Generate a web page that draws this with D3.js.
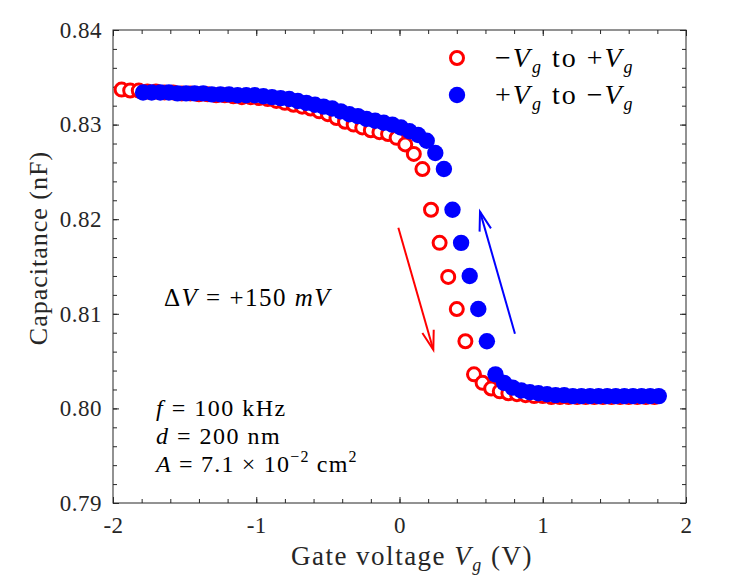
<!DOCTYPE html>
<html lang="en">
<head>
  <meta charset="UTF-8" />
  <title>Capacitance vs gate voltage</title>
  <script src="https://d3js.org/d3.v7.min.js"></script>
  <style>
    body { margin: 0; background: #fff; }
    svg { display: block; }
    .axis line { stroke: #262626; stroke-width: 1; }
  </style>
</head>
<body>
<svg id="chart" width="738" height="586"></svg>
<script>
  // sweep -Vg -> +Vg (open red circles)
  const upX = [-1.94, -1.88, -1.82, -1.76, -1.70, -1.64, -1.58, -1.52, -1.46, -1.40,
    -1.34, -1.28, -1.22, -1.16, -1.10, -1.04, -0.98, -0.92, -0.86, -0.80,
    -0.74, -0.68, -0.62, -0.56, -0.50, -0.44, -0.38, -0.32, -0.26, -0.20,
    -0.14, -0.08, -0.02, 0.04, 0.10, 0.16, 0.22, 0.28, 0.34, 0.40,
    0.46, 0.52, 0.58, 0.64, 0.70, 0.76, 0.82, 0.88, 0.94, 1.00,
    1.06, 1.12, 1.18, 1.24, 1.30, 1.36, 1.42, 1.48, 1.54, 1.60,
    1.66, 1.72, 1.78];
  const upC = [0.8337, 0.8336, 0.8336, 0.8335, 0.8335, 0.8334, 0.8334, 0.8333, 0.8333, 0.8332,
    0.8332, 0.8331, 0.8331, 0.8330, 0.8329, 0.8329, 0.8328, 0.8327, 0.8325, 0.8323,
    0.8321, 0.8319, 0.8317, 0.8314, 0.8311, 0.8307, 0.8303, 0.8300, 0.8297, 0.8294,
    0.8292, 0.8290, 0.8286, 0.8279, 0.8269, 0.8253, 0.8210, 0.8175, 0.8139, 0.8105,
    0.8071, 0.8036, 0.8027, 0.8021, 0.8018, 0.8016, 0.8015, 0.8014, 0.8013, 0.8013,
    0.8012, 0.8012, 0.8012, 0.8012, 0.8012, 0.8012, 0.8012, 0.8012, 0.8012, 0.8012,
    0.8012, 0.8012, 0.8012];

  // sweep +Vg -> -Vg (filled blue circles)
  const downX = [-1.79, -1.73, -1.67, -1.61, -1.55, -1.49, -1.43, -1.37, -1.31, -1.25,
    -1.19, -1.13, -1.07, -1.01, -0.95, -0.89, -0.83, -0.77, -0.71, -0.65,
    -0.59, -0.53, -0.47, -0.41, -0.35, -0.29, -0.23, -0.17, -0.11, -0.05,
    0.01, 0.07, 0.13, 0.19, 0.25, 0.31, 0.37, 0.43, 0.49, 0.55,
    0.61, 0.67, 0.73, 0.79, 0.85, 0.91, 0.97, 1.03, 1.09, 1.15,
    1.21, 1.27, 1.33, 1.39, 1.45, 1.51, 1.57, 1.63, 1.69, 1.75,
    1.81];
  const downC = [0.8334, 0.8334, 0.8334, 0.8334, 0.8333, 0.8333, 0.8333, 0.8333, 0.8332, 0.8332,
    0.8332, 0.8331, 0.8331, 0.8331, 0.8330, 0.8329, 0.8328, 0.8327, 0.8325, 0.8323,
    0.8321, 0.8319, 0.8317, 0.8314, 0.8311, 0.8309, 0.8306, 0.8304, 0.8302, 0.8300,
    0.8297, 0.8293, 0.8289, 0.8283, 0.8270, 0.8253, 0.8210, 0.8175, 0.8140, 0.8105,
    0.8071, 0.8036, 0.8027, 0.8022, 0.8019, 0.8017, 0.8016, 0.8015, 0.8014, 0.8014,
    0.8013, 0.8013, 0.8013, 0.8013, 0.8013, 0.8013, 0.8013, 0.8013, 0.8013, 0.8013,
    0.8013];

  const xTicks = [-2, -1, 0, 1, 2];
  const xTickLabels = ["-2", "-1", "0", "1", "2"];
  const yTicks = [0.79, 0.80, 0.81, 0.82, 0.83, 0.84];
  const yTickLabels = ["0.79", "0.80", "0.81", "0.82", "0.83", "0.84"];
  const xMinor = d3.range(-20, 21, 2).map(v => v / 10);
  const yMinor = d3.range(395, 421, 1).map(v => v / 500);

  // arrows: [x1, y1, x2 (tip), y2 (tip)]
  const redArrow = [-0.008, 0.8191, 0.236, 0.8062];
  const blueArrow = [0.806, 0.8079, 0.562, 0.8208];

  const FONT = "'Liberation Serif', 'Times New Roman', Times, 'DejaVu Serif', serif";
  const INK = "#262626";

  const svg = d3.select("#chart");
  const x = d3.scaleLinear().domain([-2, 2]).range([113, 686]);
  const y = d3.scaleLinear().domain([0.79, 0.84]).range([503, 30]);

  // plot box
  svg.append("rect")
    .attr("x", 113).attr("y", 30).attr("width", 573).attr("height", 473)
    .attr("fill", "none").attr("stroke", INK).attr("stroke-width", 1);

  // minor ticks on all four sides
  const minorTick = 4;
  svg.append("g").attr("class", "axis").attr("transform", "translate(0,503)")
    .call(d3.axisBottom(x).tickValues(xMinor).tickSizeInner(-minorTick).tickSizeOuter(0).tickFormat(""));
  svg.append("g").attr("class", "axis").attr("transform", "translate(0,30)")
    .call(d3.axisTop(x).tickValues(xMinor).tickSizeInner(-minorTick).tickSizeOuter(0).tickFormat(""));
  svg.append("g").attr("class", "axis").attr("transform", "translate(113,0)")
    .call(d3.axisLeft(y).tickValues(yMinor).tickSizeInner(-minorTick).tickSizeOuter(0).tickFormat(""));
  svg.append("g").attr("class", "axis").attr("transform", "translate(686,0)")
    .call(d3.axisRight(y).tickValues(yMinor).tickSizeInner(-minorTick).tickSizeOuter(0).tickFormat(""));

  // major ticks with labels
  svg.append("g").attr("class", "axis labelled").attr("transform", "translate(0,503)")
    .call(d3.axisBottom(x).tickValues(xTicks).tickSizeInner(-6).tickSizeOuter(0)
      .tickPadding(14).tickFormat((d, i) => xTickLabels[i]));
  svg.append("g").attr("class", "axis labelled").attr("transform", "translate(113,0)")
    .call(d3.axisLeft(y).tickValues(yTicks).tickSizeInner(-6).tickSizeOuter(0)
      .tickPadding(11).tickFormat((d, i) => yTickLabels[i]));
  svg.append("g").attr("class", "axis").attr("transform", "translate(0,30)")
    .call(d3.axisTop(x).tickValues(xTicks).tickSizeInner(-6).tickSizeOuter(0).tickFormat(""));
  svg.append("g").attr("class", "axis").attr("transform", "translate(686,0)")
    .call(d3.axisRight(y).tickValues(yTicks).tickSizeInner(-6).tickSizeOuter(0).tickFormat(""));
  svg.selectAll(".axis .domain").remove();
  svg.selectAll(".labelled text")
    .attr("fill", INK)
    .style("font-family", FONT)
    .style("font-size", "23px")
    .attr("letter-spacing", 0.5);

  // data
  const up = upX.map((v, i) => ({ v, c: upC[i] }));
  const down = downX.map((v, i) => ({ v, c: downC[i] }));

  svg.append("g").selectAll("circle").data(up).enter().append("circle")
    .attr("cx", d => x(d.v)).attr("cy", d => y(d.c)).attr("r", 6.5)
    .attr("fill", "#fff").attr("stroke", "#ff0000").attr("stroke-width", 3);

  svg.append("g").selectAll("circle").data(down).enter().append("circle")
    .attr("cx", d => x(d.v)).attr("cy", d => y(d.c)).attr("r", 8.2)
    .attr("fill", "#0000ff");

  // arrows
  function arrow(a, color) {
    const x1 = x(a[0]), y1 = y(a[1]), x2 = x(a[2]), y2 = y(a[3]);
    const ang = Math.atan2(y2 - y1, x2 - x1);
    const len = 20, spread = 0.3;
    const g = svg.append("g").attr("stroke", color).attr("stroke-width", 2).attr("fill", "none");
    g.append("line").attr("x1", x1).attr("y1", y1).attr("x2", x2).attr("y2", y2);
    g.append("path").attr("d",
      `M${x2 - len * Math.cos(ang - spread)},${y2 - len * Math.sin(ang - spread)}` +
      `L${x2},${y2}` +
      `L${x2 - len * Math.cos(ang + spread)},${y2 - len * Math.sin(ang + spread)}`);
  }
  arrow(redArrow, "#ff0000");
  arrow(blueArrow, "#0000ff");

  function txt(xp, yp, size, spacing) {
    return svg.append("text").attr("x", xp).attr("y", yp)
      .attr("font-family", FONT).attr("font-size", size).attr("fill", "#000")
      .attr("letter-spacing", spacing || 0);
  }
  function vg(t, sub) {
    t.append("tspan").attr("font-style", "italic").text("V");
    t.append("tspan").attr("font-style", "italic").attr("font-size", sub).attr("dy", 6).text("g");
    return t;
  }

  // legend
  svg.append("circle").attr("cx", 457).attr("cy", 58).attr("r", 6.5)
    .attr("fill", "#fff").attr("stroke", "#ff0000").attr("stroke-width", 3);
  svg.append("circle").attr("cx", 457).attr("cy", 95).attr("r", 8.2).attr("fill", "#0000ff");

  const l1 = txt(495, 67, 28, 2);
  l1.append("tspan").text("\u2212");
  vg(l1, 18);
  l1.append("tspan").attr("dy", -6).text(" to +");
  vg(l1, 18);
  const l2 = txt(495, 104, 28, 2);
  l2.append("tspan").text("+");
  vg(l2, 18);
  l2.append("tspan").attr("dy", -6).text(" to \u2212");
  vg(l2, 18);

  // annotations
  const dv = txt(164, 306, 25, 1.5);
  dv.append("tspan").text("\u0394");
  dv.append("tspan").attr("font-style", "italic").text("V");
  dv.append("tspan").text(" = +150 ");
  dv.append("tspan").attr("font-style", "italic").text("mV");

  const f = txt(156, 416, 24, 1.5);
  f.append("tspan").attr("font-style", "italic").text("f");
  f.append("tspan").text(" = 100 kHz");

  const dd = txt(156, 444, 24, 1.5);
  dd.append("tspan").attr("font-style", "italic").text("d");
  dd.append("tspan").text(" = 200 nm");

  const aa = txt(156, 472, 24, 1.2);
  aa.append("tspan").attr("font-style", "italic").text("A");
  aa.append("tspan").text(" = 7.1 \u00d7 10");
  aa.append("tspan").attr("font-size", 16).attr("dy", -10).text("\u22122");
  aa.append("tspan").attr("dy", 10).text(" cm");
  aa.append("tspan").attr("font-size", 16).attr("dy", -10).text("2");

  // axis titles
  const xl = txt(412, 565, 27, 1.5).attr("text-anchor", "middle").attr("fill", INK);
  xl.append("tspan").text("Gate voltage ");
  xl.append("tspan").attr("font-style", "italic").text("V");
  xl.append("tspan").attr("font-style", "italic").attr("font-size", 18).attr("dy", 6).text("g");
  xl.append("tspan").attr("dy", -6).text(" (V)");

  txt(0, 0, 26, 1).attr("transform", "translate(47,248) rotate(-90)")
    .attr("text-anchor", "middle").attr("fill", INK)
    .text("Capacitance (nF)");
</script>
</body>
</html>
